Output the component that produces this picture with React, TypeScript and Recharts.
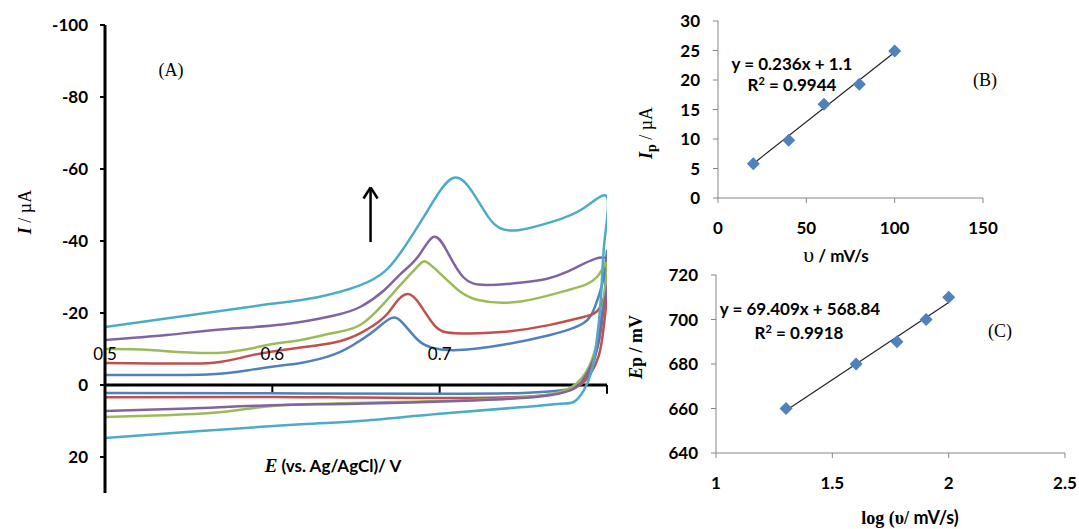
import React from 'react';
import {
  LineChart, Line, XAxis, YAxis, ReferenceLine, ReferenceDot,
  ScatterChart, Scatter,
} from 'recharts';

// (A) cyclic voltammograms, [E / V, I / µA] in scan order (forward then reverse)
const cvBlue: [number, number][] = [
  [0.5, -2.8], [0.527, -2.8], [0.561, -2.9], [0.587, -4.2], [0.609, -5.6], [0.617, -6.1],
  [0.637, -8.5], [0.653, -12.5], [0.662, -15.5], [0.671, -18.6], [0.678, -17.2], [0.687, -12.5],
  [0.696, -10.3], [0.711, -9.7], [0.737, -11.1], [0.766, -13.9], [0.786, -17.2], [0.793, -22],
  [0.798, -30], [0.8, -37],
  [0.798, -22], [0.795, -12], [0.791, -5], [0.786, -1], [0.78, 0.8], [0.77, 1.6],
  [0.75, 2.2], [0.7, 2.4], [0.6, 2.3], [0.5, 2.2],
];
const cvRed: [number, number][] = [
  [0.5, -6.1], [0.53, -6.0], [0.565, -6.2], [0.588, -8.3], [0.615, -10.3], [0.637, -11.8],
  [0.653, -14.5], [0.667, -18.9], [0.674, -23], [0.681, -25.3], [0.688, -22.5],
  [0.697, -16.5], [0.709, -14.4], [0.737, -14.7], [0.766, -16.7], [0.786, -18.9], [0.796, -21.7],
  [0.8, -26.4],
  [0.798, -16], [0.795, -8], [0.79, -3], [0.784, 0], [0.775, 1.8], [0.76, 3.0],
  [0.72, 3.6], [0.65, 3.5], [0.6, 3.3], [0.5, 3.4],
];
const cvGreen: [number, number][] = [
  [0.5, -10.0], [0.527, -9.7], [0.567, -8.9], [0.597, -11.1], [0.617, -12.5], [0.637, -14.5],
  [0.653, -16.8], [0.667, -22.8], [0.677, -28], [0.687, -33], [0.692, -34.2], [0.7, -31.1],
  [0.711, -26.4], [0.723, -23.6], [0.747, -23.1], [0.777, -26.4], [0.794, -30], [0.8, -33.3],
  [0.797, -20], [0.793, -10], [0.788, -4], [0.782, -0.5], [0.775, 1.5], [0.76, 3],
  [0.72, 4.2], [0.65, 5.0], [0.6, 5.8], [0.57, 7.5], [0.53, 8.5], [0.5, 8.9],
];
const cvPurple: [number, number][] = [
  [0.5, -12.5], [0.537, -13.9], [0.571, -15.5], [0.606, -16.8], [0.637, -19.3],
  [0.653, -21.8], [0.667, -26.4], [0.677, -31], [0.687, -35.6], [0.696, -41.1], [0.704, -37.5],
  [0.714, -30], [0.728, -27.8], [0.752, -28.6], [0.776, -31.4], [0.8, -35],
  [0.798, -22], [0.795, -12], [0.79, -5], [0.785, -1], [0.778, 1.5], [0.76, 3.2],
  [0.72, 4.3], [0.65, 5.2], [0.6, 5.6], [0.55, 6.5], [0.5, 7.2],
];
const cvCyan: [number, number][] = [
  [0.5, -16.1], [0.557, -19.8], [0.597, -22.4], [0.627, -24.4], [0.653, -27.8],
  [0.667, -31.5], [0.677, -37.0], [0.693, -48.6], [0.708, -57.5], [0.72, -53.3], [0.729, -46.7],
  [0.736, -43.6], [0.747, -43], [0.767, -45.3], [0.786, -49.1], [0.8, -52.3],
  [0.7985, -40], [0.7964, -24.4], [0.7934, -10.6], [0.7904, -3.3], [0.7862, 1.4], [0.7802, 4.7],
  [0.772, 5.2], [0.748, 6.2], [0.7, 8.0], [0.652, 10.0], [0.617, 10.9], [0.557, 12.8], [0.5, 14.7],
];

const cvSeries = [
  { name: 'blue', pts: cvBlue, color: '#4F81BD' },
  { name: 'red', pts: cvRed, color: '#C0504D' },
  { name: 'green', pts: cvGreen, color: '#9BBB59' },
  { name: 'purple', pts: cvPurple, color: '#8064A2' },
  { name: 'cyan', pts: cvCyan, color: '#4BACC6' },
];

const potentialTicks = [0.5, 0.6, 0.7];
const currentTicks = [-100, -80, -60, -40, -20, 0, 20];

// (B) peak current vs scan rate
const scanRate = [20, 40, 60, 80, 100];
const peakCurrent = [5.8, 9.8, 15.9, 19.3, 24.9];
const fitB = [0.236, 1.1];

// (C) peak potential vs log scan rate
const logScanRate = [1.301, 1.602, 1.778, 1.903, 2.0];
const peakPotential = [660, 680, 690, 700, 710];
const fitC = [69.409, 568.84];

const SANS = 'Lato, "Liberation Sans", sans-serif';
const SERIF = '"Liberation Serif", "DejaVu Serif", serif';
const GRAY = '#868686';
const MARKER = '#4F81BD';

const Diamond = (props: any) => {
  const { cx, cy } = props;
  const r = 6.5;
  return <polygon points={`${cx},${cy - r} ${cx + r},${cy} ${cx},${cy + r} ${cx - r},${cy}`} fill={MARKER} />;
};

const Abs = ({ x, y, rot, children, style }: any) => (
  <div
    style={{
      position: 'absolute', left: x, top: y, whiteSpace: 'nowrap', lineHeight: 1,
      transform: `translate(-50%, -50%)${rot ? ` rotate(${rot}deg)` : ''}`,
      ...style,
    }}
  >
    {children}
  </div>
);

function PanelA() {
  return (
    <LineChart width={640} height={529} margin={{ top: 25, right: 33, bottom: 36, left: 0 }}>
      <XAxis type="number" dataKey="e" domain={[0.5, 0.8]} hide allowDataOverflow />
      <YAxis
        type="number"
        domain={[-100, 30]}
        ticks={currentTicks}
        reversed
        width={105}
        interval={0}
        allowDataOverflow
        axisLine={{ stroke: '#000', strokeWidth: 3 }}
        tickLine={{ stroke: '#000', strokeWidth: 2 }}
        tickSize={5}
        tickMargin={12}
        tick={{ fill: '#000', fontSize: 17, fontWeight: 700, fontFamily: SANS }}
      />
      <ReferenceLine y={0} stroke="#000" strokeWidth={3} />
      {[0.6, 0.7, 0.8].map((e) => (
        <ReferenceLine key={e} segment={[{ x: e, y: 0 }, { x: e, y: 2.4 }]} stroke="#000" strokeWidth={2} />
      ))}
      {potentialTicks.map((e) => (
        <ReferenceDot
          key={e}
          x={e}
          y={-8.6}
          r={0}
          fill="none"
          stroke="none"
          label={{ value: e.toFixed(1), position: 'center', fill: '#000', fontSize: 17, fontFamily: SANS }}
        />
      ))}
      {/* arrow */}
      <ReferenceLine segment={[{ x: 0.6587, y: -39.7 }, { x: 0.6587, y: -54.7 }]} stroke="#000" strokeWidth={2.5} />
      <ReferenceLine segment={[{ x: 0.6587, y: -54.9 }, { x: 0.6545, y: -51.8 }]} stroke="#000" strokeWidth={2.5} />
      <ReferenceLine segment={[{ x: 0.6587, y: -54.9 }, { x: 0.6629, y: -51.8 }]} stroke="#000" strokeWidth={2.5} />
      {cvSeries.map((s) => (
        <Line
          key={s.name}
          data={s.pts.map(([e, i]) => ({ e, i }))}
          dataKey="i"
          type="natural"
          stroke={s.color}
          strokeWidth={2.5}
          dot={false}
          isAnimationActive={false}
        />
      ))}
    </LineChart>
  );
}

function PanelB() {
  const pts = scanRate.map((x, k) => ({ x, y: peakCurrent[k] }));
  const x0 = scanRate[0];
  const x1 = scanRate[scanRate.length - 1];
  return (
    <ScatterChart width={439} height={260} margin={{ top: 21, right: 96, bottom: 22, left: 0 }}>
      <XAxis
        type="number" dataKey="x" domain={[0, 150]} ticks={[0, 50, 100, 150]} height={40}
        axisLine={{ stroke: GRAY }} tickLine={{ stroke: GRAY }} tickSize={5} tickMargin={19}
        tick={{ fill: '#000', fontSize: 17, fontWeight: 700, fontFamily: SANS }} interval={0}
      />
      <YAxis
        type="number" dataKey="y" domain={[0, 30]} ticks={[0, 5, 10, 15, 20, 25, 30]} width={78}
        axisLine={{ stroke: GRAY }} tickLine={{ stroke: GRAY }} tickSize={5} tickMargin={13}
        tick={{ fill: '#000', fontSize: 17, fontWeight: 700, fontFamily: SANS }} interval={0}
      />
      <Scatter data={pts} shape={<Diamond />} isAnimationActive={false} />
      <ReferenceLine
        segment={[{ x: x0, y: fitB[0] * x0 + fitB[1] }, { x: x1, y: fitB[0] * x1 + fitB[1] }]}
        stroke="#222" strokeWidth={1.2}
      />
    </ScatterChart>
  );
}

function PanelC() {
  const pts = logScanRate.map((x, k) => ({ x, y: peakPotential[k] }));
  const x0 = logScanRate[0];
  const x1 = logScanRate[logScanRate.length - 1];
  return (
    <ScatterChart width={439} height={269} margin={{ top: 15, right: 14, bottom: 36, left: 0 }}>
      <XAxis
        type="number" dataKey="x" domain={[1, 2.5]} ticks={[1, 1.5, 2, 2.5]} height={40}
        axisLine={{ stroke: GRAY }} tickLine={{ stroke: GRAY }} tickSize={5} tickMargin={19}
        tick={{ fill: '#000', fontSize: 17, fontWeight: 700, fontFamily: SANS }} interval={0}
      />
      <YAxis
        type="number" dataKey="y" domain={[640, 720]} ticks={[640, 660, 680, 700, 720]} width={76}
        axisLine={{ stroke: GRAY }} tickLine={{ stroke: GRAY }} tickSize={5} tickMargin={13}
        tick={{ fill: '#000', fontSize: 17, fontWeight: 700, fontFamily: SANS }} interval={0}
      />
      <Scatter data={pts} shape={<Diamond />} isAnimationActive={false} />
      <ReferenceLine
        segment={[{ x: x0, y: fitC[0] * x0 + fitC[1] }, { x: x1, y: fitC[0] * x1 + fitC[1] }]}
        stroke="#222" strokeWidth={1.2}
      />
    </ScatterChart>
  );
}

export default function App() {
  const bold = { fontFamily: SANS, fontWeight: 700, fontSize: 17, color: '#000' };
  const serif = { fontFamily: SERIF, fontSize: 18, color: '#000' };
  return (
    <div style={{ position: 'relative', width: 1079, height: 529, background: '#fff', overflow: 'hidden' }}>
      <style>{'body{margin:0}'}</style>
      <div style={{ position: 'absolute', left: 0, top: 0 }}>
        <PanelA />
      </div>
      <div style={{ position: 'absolute', left: 640, top: 0 }}>
        <PanelB />
      </div>
      <div style={{ position: 'absolute', left: 640, top: 260 }}>
        <PanelC />
      </div>

      {/* panel A texts */}
      <Abs x={171} y={70} style={serif}>(A)</Abs>
      <Abs x={25} y={212} rot={-90} style={serif}>
        <i style={{ fontWeight: 700 }}>I</i> / µA
      </Abs>
      <Abs x={333} y={465} style={bold}>
        <i style={{ fontFamily: SERIF, fontSize: 19 }}>E</i> (vs. Ag/AgCl)/ V
      </Abs>

      {/* panel B texts */}
      <Abs x={792} y={63} style={{ ...bold, fontSize: 17 }}>y = 0.236x + 1.1</Abs>
      <Abs x={792} y={84} style={{ ...bold, fontSize: 17 }}>
        R<sup style={{ fontSize: 11 }}>2</sup> = 0.9944
      </Abs>
      <Abs x={985} y={80} style={serif}>(B)</Abs>
      <Abs x={648} y={133} rot={-90} style={serif}>
        <i style={{ fontWeight: 700 }}>I</i>
        <sub style={{ fontWeight: 700, fontSize: 14 }}>p</sub> / µA
      </Abs>
      <Abs x={836} y={255} style={bold}>
        <span style={{ fontFamily: SERIF, fontWeight: 400, fontSize: 22 }}>υ</span> / mV/s
      </Abs>

      {/* panel C texts */}
      <Abs x={800} y={308} style={{ ...bold, fontSize: 17 }}>y = 69.409x + 568.84</Abs>
      <Abs x={799} y={332} style={{ ...bold, fontSize: 17 }}>
        R<sup style={{ fontSize: 11 }}>2</sup> = 0.9918
      </Abs>
      <Abs x={1000} y={331} style={serif}>(C)</Abs>
      <Abs x={636} y={347} rot={-90} style={{ ...serif, fontWeight: 700 }}>
        <i>E</i>p / mV
      </Abs>
      <Abs x={910} y={517} style={{ ...serif, fontWeight: 700 }}>
        log (υ/ <span style={{ fontFamily: SANS }}>mV/s)</span>
      </Abs>
    </div>
  );
}
